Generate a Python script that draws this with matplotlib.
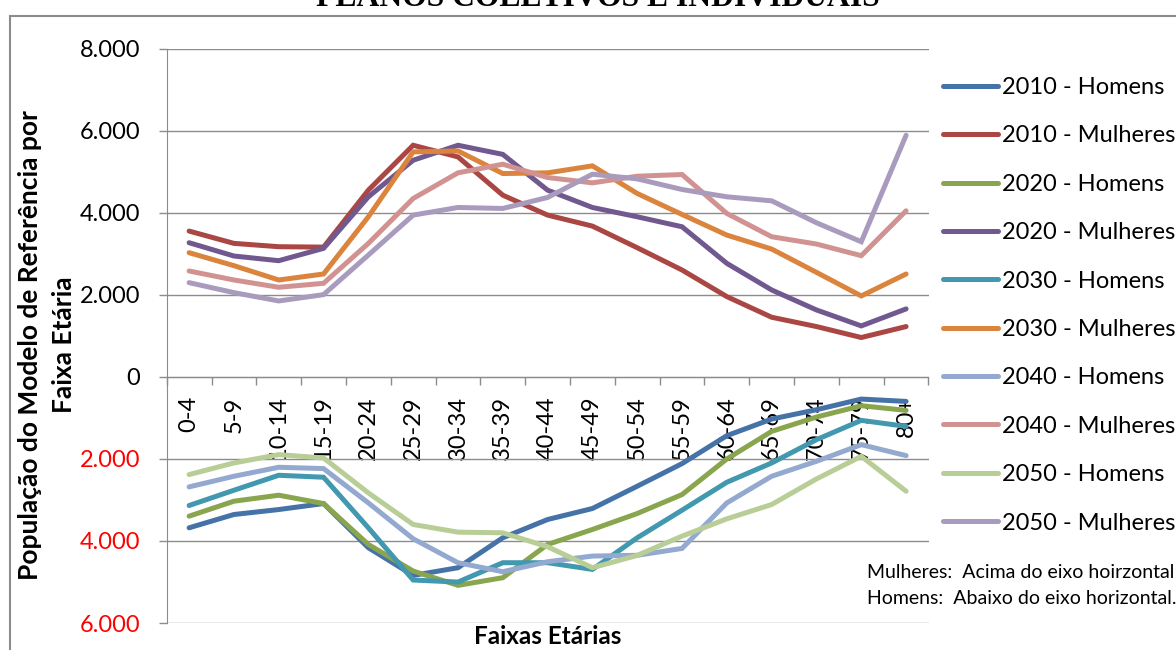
import numpy as np
import matplotlib
matplotlib.use("Agg")
import matplotlib.pyplot as plt
from matplotlib.ticker import FuncFormatter
from matplotlib.patches import Rectangle

plt.rcParams['font.family'] = ['Lato', 'DejaVu Sans']

categories = ["0-4", "5-9", "10-14", "15-19", "20-24", "25-29", "30-34", "35-39",
              "40-44", "45-49", "50-54", "55-59", "60-64", "65-69", "70-74", "75-79", "80+"]

# Men values (plotted below the axis as negatives)
h2010 = [3680, 3356, 3235, 3089, 4166, 4840, 4653, 3923, 3478, 3210, 2667, 2116, 1435, 1030, 803, 543, 600]
h2020 = [3397, 3032, 2886, 3089, 4086, 4734, 5083, 4896, 4086, 3721, 3332, 2870, 2002, 1330, 981, 705, 819]
h2030 = [3137, 2765, 2400, 2448, 3680, 4953, 5002, 4531, 4531, 4694, 3923, 3251, 2570, 2100, 1532, 1062, 1208]
h2040 = [2683, 2424, 2205, 2237, 3073, 3948, 4531, 4750, 4507, 4369, 4350, 4183, 3073, 2424, 2059, 1654, 1921]
h2050 = [2383, 2100, 1897, 1978, 2829, 3599, 3786, 3802, 4142, 4653, 4353, 3883, 3462, 3113, 2489, 1938, 2789]

# Women values (above the axis)
m2010 = [3551, 3251, 3170, 3160, 4548, 5642, 5358, 4426, 3940, 3672, 3145, 2602, 1954, 1451, 1224, 957, 1224]
m2020 = [3267, 2943, 2829, 3130, 4386, 5277, 5642, 5420, 4548, 4126, 3899, 3656, 2764, 2116, 1629, 1240, 1654]
m2030 = [3024, 2708, 2359, 2505, 3899, 5480, 5504, 4953, 4970, 5140, 4467, 3956, 3453, 3113, 2545, 1970, 2505]
m2040 = [2578, 2359, 2181, 2278, 3251, 4345, 4970, 5180, 4856, 4726, 4888, 4929, 3980, 3413, 3235, 2951, 4045]
m2050 = [2294, 2051, 1848, 2002, 2967, 3940, 4126, 4102, 4370, 4937, 4823, 4564, 4386, 4288, 3753, 3291, 5885]

series_labels = ["2010 - Homens", "2010 - Mulheres", "2020 - Homens", "2020 - Mulheres",
                 "2030 - Homens", "2030 - Mulheres", "2040 - Homens", "2040 - Mulheres",
                 "2050 - Homens", "2050 - Mulheres"]
series_values = [h2010, m2010, h2020, m2020, h2030, m2030, h2040, m2040, h2050, m2050]
series_is_men = [True, False, True, False, True, False, True, False, True, False]
colors = ["#4572A7", "#AA4643", "#89A54E", "#71588F", "#4198AF",
          "#DB843D", "#93A9CF", "#D19392", "#B9CD96", "#A99BBD"]

yticks = [-6000, -4000, -2000, 0, 2000, 4000, 6000, 8000]

W, H = 1176, 650
fig = plt.figure(figsize=(W / 100, H / 100), dpi=100)
ax = fig.add_axes([166.7 / W, 1 - 623 / H, (928.5 - 166.7) / W, (623 - 48.5) / H])

x = np.arange(len(categories))
lw = 3.6
for lab, vals, men, c in zip(series_labels, series_values, series_is_men, colors):
    v = -np.array(vals) if men else np.array(vals)
    ax.plot(x, v, color=c, lw=lw, label=lab, solid_capstyle='round', solid_joinstyle='miter')

ax.set_xlim(-0.5, len(categories) - 0.5)
ax.set_ylim(-6000, 8000)
ax.set_yticks(yticks)
ax.yaxis.set_major_formatter(FuncFormatter(
    lambda v, p: "0" if v == 0 else f"{abs(int(v)):,}".replace(",", ".")))
ax.grid(axis='y', color='#8c8c8c', lw=1.0)
ax.set_axisbelow(True)
ax.tick_params(axis='y', length=6, width=1.0, color='#8c8c8c', pad=13, labelsize=17)
for t, v in zip(ax.get_yticklabels(), yticks):
    t.set_color('red' if v < 0 else 'black')

# x axis at zero
ax.spines['bottom'].set_position(('data', 0))
ax.spines['bottom'].set_color('#8c8c8c')
ax.spines['left'].set_color('#8c8c8c')
ax.spines['top'].set_visible(False)
ax.spines['right'].set_visible(False)
ax.set_xticks(np.arange(-0.5, len(categories), 1.0))
ax.set_xticklabels([])
ax.tick_params(axis='x', which='major', length=6, width=1.0, color='#8c8c8c', direction='out')
ax.set_xticks(x, minor=True)
ax.set_xticklabels(categories, minor=True, rotation=90, va='top', ha='center', fontsize=17)
ax.tick_params(axis='x', which='minor', length=0, pad=14)

# axis titles
fig.text(547.6 / W, 1 - 637 / H, "Faixas Etárias", ha='center', va='center',
         fontsize=17.5, fontweight='bold')
fig.text(47 / W, 1 - 345 / H, "População do Modelo de Referência por\nFaixa Etária",
         rotation=90, ha='center', va='center', fontsize=19, fontweight='bold',
         linespacing=1.5, multialignment='center')

# legend
leg = fig.legend(loc='upper left', bbox_to_anchor=(943 / W, 1 - 77 / H), frameon=False,
                 fontsize=17, handlelength=2.35, handletextpad=0.15, labelspacing=1.16,
                 borderaxespad=0, borderpad=0)
for h in leg.get_lines():
    h.set_linewidth(lw)
    h.set_solid_capstyle('round')

# notes
fig.text(867 / W, 1 - 572 / H, "Mulheres:  Acima do eixo hoirzontal", ha='left', va='center', fontsize=14)
fig.text(867 / W, 1 - 599 / H, "Homens:  Abaixo do eixo horizontal.", ha='left', va='center', fontsize=14)

# cut-off title at the top
fig.text(598 / W, 1 - 6 / H, "PLANOS COLETIVOS E INDIVIDUAIS", ha='center', va='baseline',
         fontsize=22.8, fontweight='bold', family=['Liberation Serif', 'DejaVu Serif'])

# outer chart border
fig.add_artist(Rectangle((10 / W, -0.1), 1.2, 1 - 16 / H + 0.1, transform=fig.transFigure,
                         fill=False, edgecolor='#8c8c8c', lw=1.5))

fig.savefig("out.png", dpi=100)
